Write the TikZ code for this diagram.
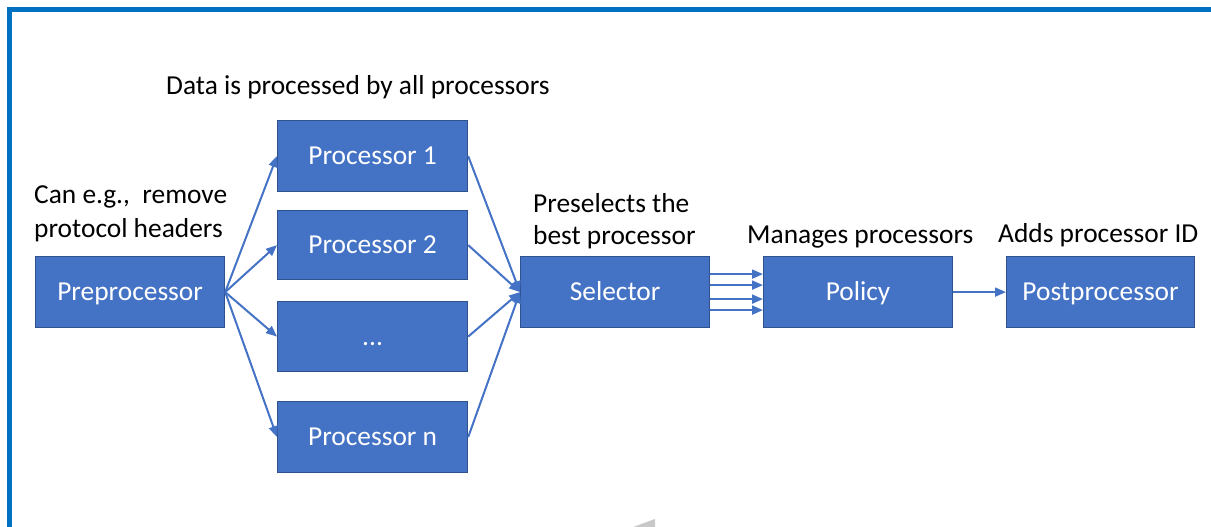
\documentclass[tikz,border=0pt]{standalone}
\usepackage{fontspec}
\setmainfont{Carlito}
\usetikzlibrary{arrows.meta}
\definecolor{boxblue}{HTML}{4472C4}
\definecolor{boxedge}{HTML}{2F528F}
\definecolor{framecol}{HTML}{0070C0}
\definecolor{greytri}{HTML}{C8C8C8}
\tikzset{
  procbox/.style={draw=boxedge, line width=1.2pt, fill=boxblue, text=white,
    minimum width=189pt, minimum height=71pt, inner sep=0pt, anchor=north west,
    text height=17.6pt, text depth=0pt,
    font=\fontsize{27.4}{33}\selectfont},
  lbl/.style={anchor=base west, inner sep=0pt, text=black,
    font=\fontsize{27.4}{33}\selectfont},
  conn/.style={draw=boxblue, line width=2pt,
    -{Triangle[length=11pt,width=9pt]}}
}
\begin{document}
\begin{tikzpicture}[x=1pt,y=-1pt]
\useasboundingbox (0,0) rectangle (1211,527);
% frame
\draw[framecol, line width=4.5pt] (9.7,540) -- (9.7,9.3) -- (1230,9.3);
% grey triangle
\fill[greytri] (625,530) -- (655,519) -- (655,530) -- cycle;
% boxes
\node[procbox] (pre) at (35,256) {Preprocessor};
\node[procbox, minimum width=190pt] (p1) at (277,120) {Processor 1};
\node[procbox, minimum width=190pt, minimum height=69pt] (p2) at (277,210) {Processor 2};
\node[procbox, minimum width=190pt, minimum height=70pt] (pd) at (277,301) {...};
\node[procbox, minimum width=190pt] (pn) at (277,401) {Processor n};
\node[procbox] (sel) at (520,256) {Selector};
\node[procbox] (pol) at (763,256) {Policy};
\node[procbox, minimum width=188pt] (post) at (1006,256) {Postprocessor};
% labels
\node[lbl] (l1) at (166,95) {Data is processed by all processors};
\node[lbl] (l2a) at (34,203) {Can e.g.,\ \ remove};
\node[lbl] (l2b) at (34,237) {protocol headers};
\node[lbl] (l3a) at (533,212) {Preselects the};
\node[lbl] (l3b) at (533,244) {best processor};
\node[lbl] (l4) at (747,243) {Manages processors};
\node[lbl] (l5) at (998,242) {Adds processor ID};
% connectors
\foreach \p in {p1,p2,pd,pn}{
  \draw[conn] (pre.east) -- (\p.west);
  \draw[conn] (\p.east) -- (sel.west);
}
\foreach \s in {18,7,-7,-18}{
  \draw[conn] ([yshift=\s pt]sel.east) -- ([yshift=\s pt]pol.west);
}
\draw[conn] (pol.east) -- (post.west);
\end{tikzpicture}
\end{document}
